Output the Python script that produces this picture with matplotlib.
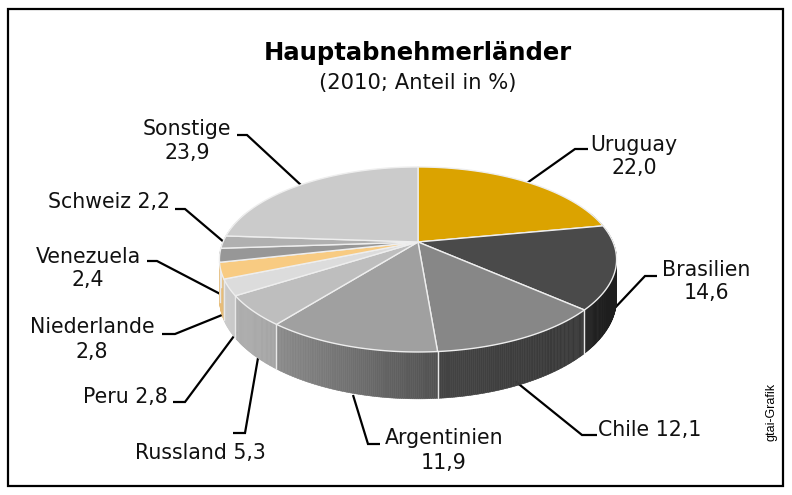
import numpy as np
import matplotlib
matplotlib.use("Agg")
import matplotlib.pyplot as plt
from matplotlib.patches import Polygon, Rectangle
from matplotlib.collections import PolyCollection
from matplotlib.colors import to_rgb

# ---- data ----
countries = ["Uruguay", "Brasilien", "Chile", "Argentinien", "Russland",
             "Peru", "Niederlande", "Venezuela", "Schweiz", "Sonstige"]
shares = [22.0, 14.6, 12.1, 11.9, 5.3, 2.8, 2.8, 2.4, 2.2, 23.9]
colors = ["#DBA300", "#4A4A4A", "#878787", "#A0A0A0", "#BEBEBE",
          "#DCDCDC", "#F8CB82", "#979797", "#B0B0B0", "#CBCBCB"]
title = "Hauptabnehmerländer"
subtitle = "(2010; Anteil in %)"
source = "gtai-Grafik"

# ---- layout (label placement, leader lines) ----
# (two_lines, x, y_name, y_value, ha)
label_pos = {
    "Uruguay":     (True, 634, 145, 168, "center"),
    "Brasilien":   (True, 706, 270, 293, "center"),
    "Chile":       (False, 598, 430, None, "left"),
    "Argentinien": (True, 444, 438, 463, "center"),
    "Russland":    (False, 200, 453, None, "center"),
    "Peru":        (False, 168, 397, None, "right"),
    "Niederlande": (True, 92, 327, 352, "center"),
    "Venezuela":   (True, 88, 257, 280, "center"),
    "Schweiz":     (False, 170, 202, None, "right"),
    "Sonstige":    (True, 187, 129, 153, "center"),
}
leaders = {
    "Uruguay":     [(588, 149), (575, 149), (527, 183)],
    "Brasilien":   [(657, 276), (645, 276), (612, 311)],
    "Chile":       [(597, 435), (582, 435), (515, 381)],
    "Argentinien": [(380, 444), (368, 444), (353, 395)],
    "Russland":    [(233, 433), (245, 433), (258, 358)],
    "Peru":        [(173, 402), (185, 402), (237, 332)],
    "Niederlande": [(162, 334), (175, 334), (227, 313)],
    "Venezuela":   [(147, 261), (157, 261), (226, 297)],
    "Schweiz":     [(175, 209), (185, 209), (225, 243)],
    "Sonstige":    [(237, 135), (247, 135), (302, 186)],
}

FS = 14.8
plt.rcParams['font.family'] = ['DejaVu Sans']

fig = plt.figure(figsize=(7.92, 4.95), dpi=100)
ax = fig.add_axes([0, 0, 1, 1])
ax.set_xlim(0, 792)
ax.set_ylim(495, 0)
ax.axis('off')

# frame
ax.add_patch(Rectangle((8, 9), 775, 477, fill=False, edgecolor='black', lw=1.6, zorder=1))

CX, CY = 418, 242
A, B, P, H = 195, 89.2, 0.189, 38.0


def proj(theta, drop=0.0):
    u = np.sin(theta)
    v = -np.cos(theta)
    s = 1.0 / (1.0 - P * v)
    return CX + A * u * s, CY + B * v * s + H * s * drop


def shade(x):
    return np.interp(x, [220, 280, 440, 600, 620], [0.93, 0.86, 0.50, 0.40, 0.40])


total = sum(shares)
bounds = np.concatenate([[0], np.cumsum(shares)]) / total * 2 * np.pi

# walls
quads, fcols, depths = [], [], []
for i, c in enumerate(colors):
    t0, t1 = bounds[i], bounds[i + 1]
    n = max(4, int((t1 - t0) / np.radians(0.5)))
    ts = np.linspace(t0, t1, n + 1)
    rgb = np.array(to_rgb(c))
    for a, b in zip(ts[:-1], ts[1:]):
        vm = -np.cos((a + b) / 2)
        if vm < -0.35:
            continue
        p1 = proj(a); p2 = proj(b); p3 = proj(b, 1); p4 = proj(a, 1)
        xm = (p1[0] + p2[0]) / 2
        col = np.clip(rgb * shade(xm), 0, 1)
        quads.append([p1, p2, p3, p4])
        fcols.append(col)
        depths.append(vm)
order = np.argsort(depths)
pc = PolyCollection([quads[k] for k in order], facecolors=[fcols[k] for k in order],
                    edgecolors=[fcols[k] for k in order], linewidths=0.4, zorder=2)
ax.add_collection(pc)

# wall boundary lines
for t in bounds[:-1]:
    if -np.cos(t) > 0.05:
        x1, y1 = proj(t)
        x2, y2 = proj(t, 1)
        ax.plot([x1, x2], [y1, y2], color='#e8e8e8', lw=1.0, zorder=3)

# top face
for i, c in enumerate(colors):
    t0, t1 = bounds[i], bounds[i + 1]
    ts = np.linspace(t0, t1, max(8, int((t1 - t0) / np.radians(0.5))))
    pts = [(CX, CY)] + [proj(t) for t in ts]
    ax.add_patch(Polygon(pts, closed=True, facecolor=c, edgecolor='#eeeeee',
                         lw=1.0, joinstyle='round', zorder=4))

# labels
for name, val in zip(countries, shares):
    vs = f"{val:.1f}".replace('.', ',')
    two, x, yn, yv, ha = label_pos[name]
    if two:
        ax.text(x, yn, name, ha=ha, va='center', fontsize=FS, color='#111111', zorder=6)
        ax.text(x, yv, vs, ha=ha, va='center', fontsize=FS, color='#111111', zorder=6)
    else:
        ax.text(x, yn, f"{name} {vs}", ha=ha, va='center', fontsize=FS, color='#111111', zorder=6)
    pts = np.array(leaders[name])
    ax.plot(pts[:, 0], pts[:, 1], color='black', lw=1.6, zorder=1.5,
            solid_capstyle='butt', solid_joinstyle='miter')

# titles
ax.text(418, 53, title, ha='center', va='center', fontsize=17.5, fontweight='bold', color='black')
ax.text(418, 83, subtitle, ha='center', va='center', fontsize=15.2, color='#111111')
ax.text(771, 412, source, ha='center', va='center', rotation=90, fontsize=9,
        family=['Liberation Sans', 'DejaVu Sans'], color='black')

fig.savefig("out.png", dpi=100)
